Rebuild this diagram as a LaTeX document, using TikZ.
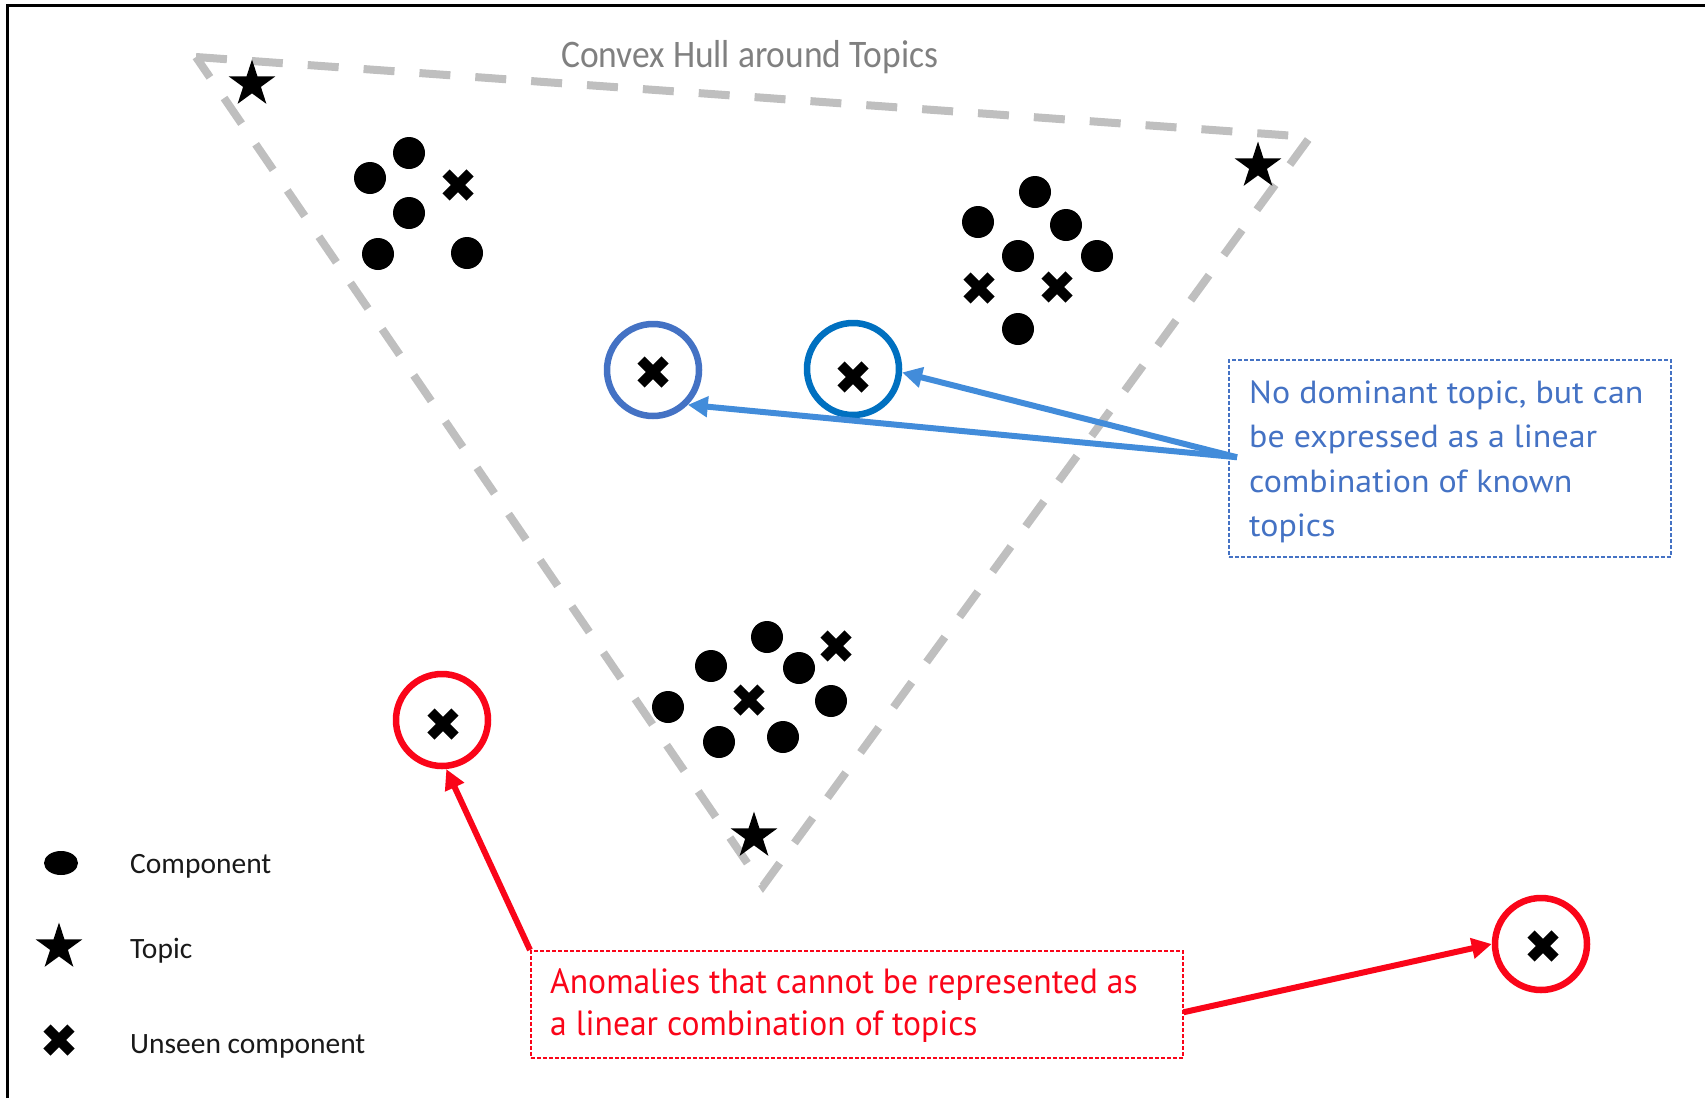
\documentclass[tikz,border=0pt]{standalone}
\usepackage{fontspec}
\usetikzlibrary{shapes.geometric,arrows.meta,calc}
\newfontfamily\legendfont{Carlito}
\newfontfamily\hullfont[FakeStretch=0.91]{Carlito}
\newfontfamily\notefont[FakeStretch=1.06]{PT Sans}
\newfontfamily\anomfont[FakeStretch=0.96]{PT Sans}

\definecolor{hullgray}{RGB}{191,191,191}
\definecolor{hulltext}{RGB}{128,128,128}
\definecolor{ringblueA}{RGB}{68,114,196}
\definecolor{ringblueB}{RGB}{0,112,192}
\definecolor{arrowblue}{RGB}{66,140,218}
\definecolor{notecolor}{RGB}{68,114,196}
\definecolor{anomred}{RGB}{250,5,25}

% an unseen component: a heavy diagonal cross
\newcommand\unseenmark[2]{%
  \node[unseenbox] (#1) at (#2) {};
  \draw[xstroke] ($(#1.center)+(-12,-12)$) -- ($(#1.center)+(12,12)$)
                 ($(#1.center)+(-12,12)$) -- ($(#1.center)+(12,-12)$);}

\begin{document}
\begin{tikzpicture}[x=1pt,y=-1pt,
  component/.style={circle, fill=black, inner sep=0, minimum size=32pt},
  keydot/.style={ellipse, fill=black, inner sep=0, minimum width=34pt, minimum height=24pt},
  topic/.style={star, star points=5, star point ratio=2.618, fill=black, inner sep=0, minimum size=49pt},
  unseenbox/.style={inner sep=0, minimum size=32pt},
  xstroke/.style={line width=10pt, black},
  hull/.style={draw=hullgray, line width=8pt, dash pattern=on 31pt off 25pt},
  ring/.style={circle, line width=6.5pt, minimum size=92pt, inner sep=0},
  bluearrow/.style={draw=arrowblue, line width=6pt, -{Triangle[length=20pt,width=20pt]}},
  redarrow/.style={draw=anomred, line width=6pt, -{Triangle[length=20pt,width=20pt]}},
  notebox/.style={draw=notecolor, line width=1.5pt, dash pattern=on 4pt off 2pt, inner sep=0},
  anombox/.style={draw=anomred, line width=1.5pt, dash pattern=on 4pt off 2pt, inner sep=0},
  hulllabel/.style={font={\hullfont\fontsize{39pt}{46pt}\selectfont}, text=hulltext, inner sep=0, anchor=base west},
  notetext/.style={font={\notefont\fontsize{32pt}{44pt}\selectfont}, text=notecolor, inner sep=0, anchor=base west},
  anomtext/.style={font={\anomfont\fontsize{35pt}{42pt}\selectfont}, text=anomred, inner sep=0, anchor=base west},
  keytext/.style={font={\legendfont\fontsize{29.5pt}{35pt}\selectfont}, text=black!90, inner sep=0, anchor=base west}]

\useasboundingbox (0,0) rectangle (1705,1098);

% frame edges
\draw[line width=3pt] (7.5,1098) -- (7.5,5.3) -- (1705,5.3);

% convex hull
\coordinate (hullA) at (196,57);
\coordinate (hullB) at (1310,137);
\coordinate (hullC) at (763,886);
\draw[hull] (hullA) -- (hullB) -- (hullC) -- cycle;
\node[hulllabel] (hullname) at (561,67) {Convex Hull around Topics};

% topics
\node[topic] (topicA) at (252,84) {};
\node[topic] (topicB) at (1258,166) {};
\node[topic] (topicC) at (754,836) {};

% upper left cluster
\node[component] (ca1) at (409,153) {};
\node[component] (ca2) at (370,178) {};
\node[component] (ca3) at (409,213) {};
\node[component] (ca4) at (378,254) {};
\node[component] (ca5) at (467,253) {};
\unseenmark{ua1}{458,185}

% upper right cluster
\node[component] (cb1) at (1035,192) {};
\node[component] (cb2) at (978,222) {};
\node[component] (cb3) at (1066,225) {};
\node[component] (cb4) at (1018,256) {};
\node[component] (cb5) at (1097,256) {};
\node[component] (cb6) at (1018,329) {};
\unseenmark{ub1}{979,288}
\unseenmark{ub2}{1057,287}

% lower cluster
\node[component] (cc1) at (767,637) {};
\node[component] (cc2) at (711,666) {};
\node[component] (cc3) at (799,668) {};
\node[component] (cc4) at (668,707) {};
\node[component] (cc5) at (831,701) {};
\node[component] (cc6) at (719,742) {};
\node[component] (cc7) at (783,737) {};
\unseenmark{uc1}{836,646}
\unseenmark{uc2}{749,700}

% unseen components inside the hull
\node[ring, draw=ringblueA] (ringL) at (653,370) {};
\unseenmark{ui1}{653,372}
\node[ring, draw=ringblueB] (ringR) at (853,369) {};
\unseenmark{ui2}{853,377}

% unseen components outside the hull
\node[ring, draw=anomred] (anomL) at (442,720) {};
\unseenmark{uo1}{443,724}
\node[ring, draw=anomred] (anomR) at (1541,944) {};
\unseenmark{uo2}{1543,946}

% note on the inner points
\node[notebox, minimum width=442pt, minimum height=197pt, anchor=north west] (note) at (1228,359) {};
\node[notetext] (noteA) at (1249,403) {No dominant topic, but can};
\node[notetext] (noteB) at (1249,447) {be expressed as a linear};
\node[notetext] (noteC) at (1249,492) {combination of known};
\node[notetext] (noteD) at (1249,536) {topics};
\coordinate (noteport) at ($(note.west)+(9,-1)$);
\draw[bluearrow] (noteport) -- (ringR.-4);
\draw[bluearrow] (noteport) -- (ringL.-45);

% note on the outer points
\node[anombox, minimum width=652pt, minimum height=107pt, anchor=north west] (anom) at (530,950) {};
\node[anomtext] (anomA) at (550,993) {Anomalies that cannot be represented as};
\node[anomtext] (anomB) at (550,1035) {a linear combination of topics};
\coordinate (anomport) at ($(anom.east)+(0,8)$);
\draw[redarrow] (anom.north west) -- (anomL.-85);
\draw[redarrow] (anomport) -- (anomR.180);

% legend
\node[keydot] (keyA) at (61,863) {};
\node[topic] (keyB) at (59,947) {};
\unseenmark{keyC}{59,1040}
\node[keytext] (keyAt) at (130,873) {Component};
\node[keytext] (keyBt) at (130,958) {Topic};
\node[keytext] (keyCt) at (130,1053) {Unseen component};
\end{tikzpicture}
\end{document}
